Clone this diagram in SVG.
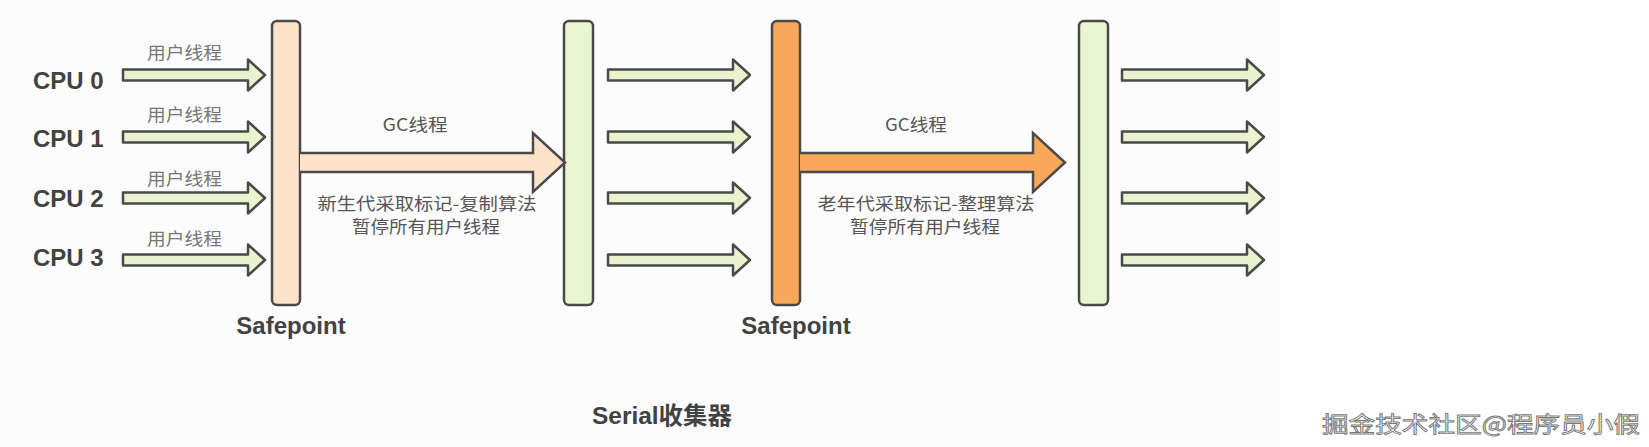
<svg xmlns="http://www.w3.org/2000/svg" width="1649" height="447" viewBox="0 0 1649 447">
<defs>
<style>
.bar{stroke:#4a4a4a;stroke-width:2.5}
.peach{fill:#fce3c9}
.green{fill:#e9f6d2}
.orange{fill:#f9a85a}
.arr{fill:#e9f3cf;stroke:#4a4a4a;stroke-width:2.5;stroke-linejoin:round}
.big{stroke:#4a4a4a;stroke-width:2.5;stroke-linejoin:miter}
.lbl{font-family:"Liberation Sans","Noto Sans CJK SC",sans-serif;font-weight:bold;font-size:24px;fill:#424242;dominant-baseline:central}
.cap{font-family:"Noto Sans CJK SC","Liberation Sans",sans-serif;font-size:17px;fill:#555;dominant-baseline:central;text-anchor:middle}
.ut{font-family:"Noto Sans CJK SC","Liberation Sans",sans-serif;font-size:17px;fill:#777;dominant-baseline:central}
.wm{font-family:"Noto Sans CJK SC",sans-serif;font-size:22px;fill:#ffffff;stroke:#7a7a7a;stroke-width:0.9;dominant-baseline:central}
</style>
<path id="sa" d="M0,-5.5 H125 V-15.5 L142,0 L125,15.5 V5.5 H0 Z"/>
</defs>
<rect x="0" y="0" width="1280" height="447" fill="#fcfcfc"/>

<g id="cpu-labels">
<text class="lbl" x="33" y="80">CPU 0</text>
<text class="lbl" x="33" y="138">CPU 1</text>
<text class="lbl" x="33" y="198">CPU 2</text>
<text class="lbl" x="33" y="257">CPU 3</text>
</g>
<g id="user-thread-labels">
<text class="ut" x="147" y="51" textLength="75" lengthAdjust="spacingAndGlyphs">用户线程</text>
<text class="ut" x="147" y="113" textLength="75" lengthAdjust="spacingAndGlyphs">用户线程</text>
<text class="ut" x="147" y="177" textLength="75" lengthAdjust="spacingAndGlyphs">用户线程</text>
<text class="ut" x="147" y="237" textLength="75" lengthAdjust="spacingAndGlyphs">用户线程</text>
</g>

<g id="safepoint1">
<rect class="bar peach" x="272" y="21" width="28" height="284" rx="5"/>
<text class="lbl" x="291" y="325" text-anchor="middle">Safepoint</text>
</g>
<g id="bar2">
<rect class="bar green" x="564" y="21" width="29" height="284" rx="5"/>
</g>
<g id="safepoint2">
<rect class="bar orange" x="772" y="21" width="28" height="284" rx="5"/>
<text class="lbl" x="796" y="325" text-anchor="middle">Safepoint</text>
</g>
<g id="bar4">
<rect class="bar green" x="1079" y="21" width="29" height="284" rx="5"/>
</g>

<g id="connectors">
<use href="#sa" class="arr" x="123" y="75"/>
<use href="#sa" class="arr" x="123" y="137"/>
<use href="#sa" class="arr" x="123" y="198"/>
<use href="#sa" class="arr" x="123" y="260"/>
<use href="#sa" class="arr" x="608" y="75"/>
<use href="#sa" class="arr" x="608" y="137"/>
<use href="#sa" class="arr" x="608" y="198"/>
<use href="#sa" class="arr" x="608" y="260"/>
<use href="#sa" class="arr" x="1122" y="75"/>
<use href="#sa" class="arr" x="1122" y="137"/>
<use href="#sa" class="arr" x="1122" y="198"/>
<use href="#sa" class="arr" x="1122" y="260"/>
<path class="big peach" d="M300,153 H533 V133 L565,162.5 L533,192 V172 H300"/>
<path class="big orange" d="M800,153 H1033 V133 L1065,162.5 L1033,192 V172 H800"/>
</g>

<g id="gc1-labels">
<text class="cap" x="415" y="123" textLength="65" lengthAdjust="spacingAndGlyphs">GC线程</text>
<text class="cap" x="427" y="202" textLength="219" lengthAdjust="spacingAndGlyphs">新生代采取标记-复制算法</text>
<text class="cap" x="426" y="225" textLength="148" lengthAdjust="spacingAndGlyphs">暂停所有用户线程</text>
</g>
<g id="gc2-labels">
<text class="cap" x="916" y="123" textLength="62" lengthAdjust="spacingAndGlyphs">GC线程</text>
<text class="cap" x="926" y="202" textLength="217" lengthAdjust="spacingAndGlyphs">老年代采取标记-整理算法</text>
<text class="cap" x="925" y="225" textLength="150" lengthAdjust="spacingAndGlyphs">暂停所有用户线程</text>
</g>

<g id="title">
<text class="lbl" x="662" y="415" text-anchor="middle" textLength="140" lengthAdjust="spacingAndGlyphs">Serial收集器</text>
</g>
<g id="watermark">
<text class="wm" x="1322" y="422" textLength="318" lengthAdjust="spacingAndGlyphs">掘金技术社区@程序员小假</text>
</g>
</svg>
